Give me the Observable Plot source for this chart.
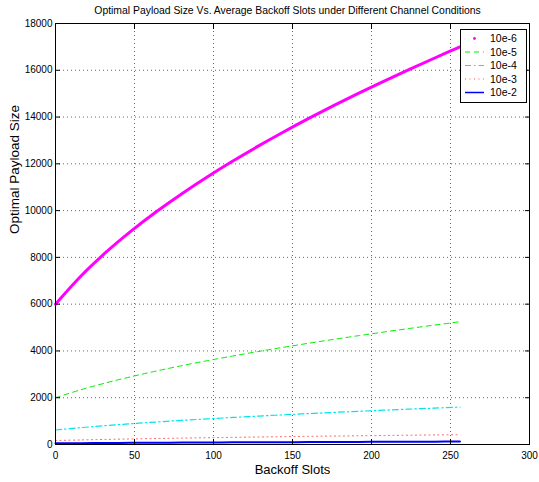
<!DOCTYPE html>
<html>
<head>
<meta charset="utf-8">
<script src="https://cdn.jsdelivr.net/npm/d3@7"></script>
<script src="https://cdn.jsdelivr.net/npm/@observablehq/plot@0.6"></script>
<style>
  body { margin: 0; background: #fff; }
  #chart { position: relative; width: 539px; height: 482px; }
  #chart svg { font-family: "Liberation Sans", Arial, Helvetica, sans-serif; }
  #legend { position: absolute; left: 0; top: 0; pointer-events: none; }
</style>
</head>
<body>
<div id="chart"></div>
<script>
// Average backoff slots
const slots = [0, 16, 32, 48, 64, 80, 96, 112, 128, 144, 160, 176, 192, 208, 224, 240, 256];

// Optimal payload size for each bit error rate
const ber6 = [6000, 7195, 8221, 9132, 9960, 10724, 11437, 12108, 12745, 13350, 13930, 14487, 15022, 15539, 16040, 16525, 16997];
const ber5 = [2000, 2340, 2636, 2901, 3145, 3371, 3582, 3782, 3972, 4153, 4327, 4494, 4655, 4810, 4961, 5107, 5249];
const ber4 = [620, 721, 810, 890, 963, 1032, 1096, 1156, 1213, 1268, 1321, 1371, 1420, 1467, 1513, 1557, 1600];
const ber3 = [170, 195, 218, 238, 256, 274, 290, 306, 320, 334, 348, 361, 374, 386, 397, 409, 420];
const ber2 = [50, 58, 64, 70, 76, 81, 86, 91, 95, 99, 103, 107, 111, 115, 118, 122, 125];

const seriesNames = ["10e-6", "10e-5", "10e-4", "10e-3", "10e-2"];
const xTicks = [0, 50, 100, 150, 200, 250, 300];
const yTicks = [0, 2000, 4000, 6000, 8000, 10000, 12000, 14000, 16000, 18000];

const titleText = "Optimal Payload Size Vs. Average Backoff Slots under Different Channel Conditions";
const xLabel = "Backoff Slots";
const yLabel = "Optimal Payload Size";

// Line styles per series
const styles = [
  {stroke: "#ff00ff", strokeWidth: 3, dash: null},
  {stroke: "#00ee00", strokeWidth: 1, dash: "5,4"},
  {stroke: "#00e5ee", strokeWidth: 1.2, dash: "6,3,1.5,3"},
  {stroke: "#ff5555", strokeWidth: 1, dash: "1,3.5"},
  {stroke: "#0000ff", strokeWidth: 2, dash: null}
];

const values = [ber6, ber5, ber4, ber3, ber2];
const series = seriesNames.map((name, i) => ({
  name,
  style: styles[i],
  rows: slots.map((s, j) => ({slots: s, payload: values[i][j]}))
}));

const grid = {stroke: "#000", strokeOpacity: 0.6, strokeDasharray: "1,3"};
const plain = d3.format("d");

const plot = Plot.plot({
  width: 539,
  height: 482,
  marginLeft: 55,
  marginRight: 10,
  marginTop: 23,
  marginBottom: 38,
  style: {background: "#fff", color: "#000", fontSize: "10px", fontFamily: "Liberation Sans, Arial, Helvetica, sans-serif"},
  x: {domain: [0, 300]},
  y: {domain: [0, 18000]},
  marks: [
    Plot.gridX(xTicks.slice(1, -1), grid),
    Plot.gridY(yTicks.slice(1, -1), grid),
    ...series.map(s => Plot.line(s.rows, {
      x: "slots",
      y: "payload",
      stroke: s.style.stroke,
      strokeWidth: s.style.strokeWidth,
      strokeDasharray: s.style.dash,
      curve: "catmull-rom"
    })),
    Plot.frame({stroke: "#000", strokeWidth: 1}),
    // inward tick marks on all four sides
    Plot.axisX(xTicks, {anchor: "bottom", tickSize: 5, dy: -5, fill: "none", label: null}),
    Plot.axisX(xTicks, {anchor: "top", tickSize: 5, dy: 5, fill: "none", label: null}),
    Plot.axisY(yTicks, {anchor: "left", tickSize: 5, dx: 5, fill: "none", label: null}),
    Plot.axisY(yTicks, {anchor: "right", tickSize: 5, dx: -5, fill: "none", label: null}),
    // tick labels
    Plot.axisX(xTicks, {anchor: "bottom", tickSize: 0, tickPadding: 7, tickFormat: plain, label: null}),
    Plot.axisY(yTicks, {anchor: "left", tickSize: 0, tickPadding: 3, tickFormat: plain, label: null}),
    // title and axis titles
    Plot.text([titleText], {text: d => d, frameAnchor: "top", lineAnchor: "middle", dy: -12.5, dx: -5, fontSize: 10.4}),
    Plot.text([xLabel], {text: d => d, frameAnchor: "bottom", lineAnchor: "middle", dy: 25.5, fontSize: 13}),
    Plot.text([yLabel], {text: d => d, frameAnchor: "left", lineAnchor: "middle", dx: -41, rotate: -90, fontSize: 13.5})
  ]
});

const chart = document.getElementById("chart");
chart.appendChild(plot);

// Legend box in the upper-right corner of the axes
const legend = d3.select(chart).append("svg")
  .attr("id", "legend")
  .attr("width", 539)
  .attr("height", 482)
  .style("font-family", "Liberation Sans, Arial, Helvetica, sans-serif");

legend.append("rect")
  .attr("x", 460.5).attr("y", 29.5)
  .attr("width", 66).attr("height", 73)
  .attr("fill", "#fff").attr("stroke", "#000");

const entry = legend.selectAll("g.entry")
  .data(series)
  .join("g")
  .attr("class", "entry")
  .attr("transform", (d, i) => `translate(0,${38.5 + i * 13.5})`);

entry.filter((d, i) => i > 0).append("line")
  .attr("x1", 465).attr("x2", 484)
  .attr("stroke", d => d.style.stroke)
  .attr("stroke-width", d => Math.min(d.style.strokeWidth, 1.5))
  .attr("stroke-dasharray", d => d.style.dash);

entry.filter((d, i) => i === 0).append("circle")
  .attr("cx", 474.5).attr("cy", 0)
  .attr("r", 1.4)
  .attr("fill", d => d.style.stroke);

entry.append("text")
  .attr("x", 490)
  .attr("dy", "0.35em")
  .attr("font-size", 10.5)
  .text(d => d.name);
</script>
</body>
</html>
